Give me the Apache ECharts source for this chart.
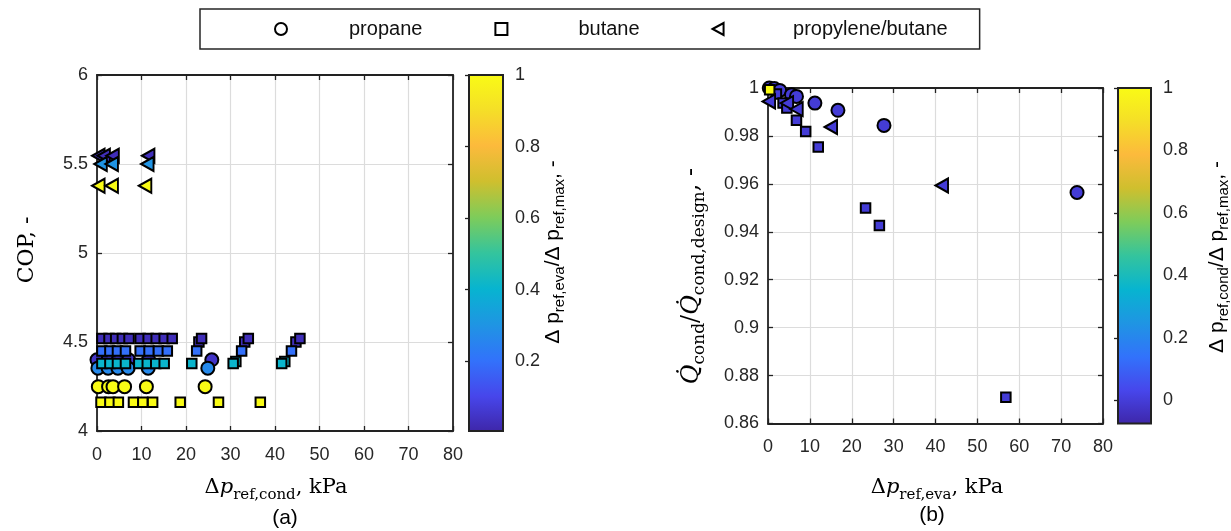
<!DOCTYPE html>
<html><head><meta charset="utf-8">
<script src="https://cdn.jsdelivr.net/npm/echarts@6/dist/echarts.min.js"></script>
<style>html,body{margin:0;padding:0;background:#fff}#c{width:1231px;height:531px}</style>
</head><body><div id="c"></div>
<script>
// ---------- data ----------
// panel (a): [dp_ref,cond (kPa), COP, dp_ref,eva / dp_ref,max]
const copPropane = [
  [0.0,4.40,0.05],[2.5,4.40,0.05],[4.8,4.40,0.05],[7.1,4.40,0.05],[11.6,4.40,0.05],[25.8,4.40,0.05],
  [0.2,4.353,0.27],[2.5,4.353,0.27],[4.7,4.353,0.27],[7.0,4.353,0.27],[11.5,4.353,0.27],[24.9,4.353,0.27],
  [0.3,4.249,1],[2.6,4.249,1],[3.6,4.249,1],[6.2,4.249,1],[11.1,4.249,1],[24.3,4.249,1]
];
const copButane = [
  [1.1,4.519,0.03],[2.7,4.519,0.03],[4.2,4.519,0.03],[5.7,4.519,0.03],[7.2,4.519,0.03],
  [9.7,4.519,0.03],[11.5,4.519,0.03],[13.3,4.519,0.03],[15.1,4.519,0.03],[16.9,4.519,0.03],
  [22.9,4.50,0.03],[23.5,4.519,0.03],[33.2,4.50,0.03],[34.0,4.519,0.03],[44.7,4.50,0.03],[45.6,4.519,0.03],
  [1.1,4.45,0.2],[2.9,4.45,0.2],[4.6,4.45,0.2],[6.4,4.45,0.2],
  [9.7,4.45,0.2],[11.7,4.45,0.2],[13.8,4.45,0.2],[15.8,4.45,0.2],
  [22.4,4.45,0.2],[32.5,4.45,0.2],[43.7,4.45,0.2],
  [1.1,4.379,0.41],[2.9,4.379,0.41],[4.6,4.379,0.41],[6.4,4.379,0.41],
  [9.4,4.379,0.41],[11.3,4.379,0.41],[13.2,4.379,0.41],[15.1,4.379,0.41],
  [21.3,4.379,0.41],[31.2,4.39,0.41],[30.6,4.379,0.41],[42.2,4.39,0.41],[41.5,4.379,0.41],
  [0.9,4.162,1],[2.9,4.162,1],[4.8,4.162,1],[8.2,4.162,1],[10.3,4.162,1],[12.5,4.162,1],
  [18.7,4.162,1],[27.3,4.162,1],[36.7,4.162,1]
];
const copPropBut = [
  [0.3,5.546,0.03],[1.5,5.546,0.03],[3.5,5.546,0.03],[11.5,5.546,0.03],
  [0.8,5.50,0.3],[3.3,5.50,0.3],[11.3,5.50,0.3],
  [0.3,5.378,1],[3.3,5.378,1],[10.8,5.378,1]
];
// panel (b): [dp_ref,eva (kPa), Q_cond/Q_cond,design, dp_ref,cond / dp_ref,max]
const qPropane = [
  [0.3,1.0,0.0],[1.5,0.9998,0.0],[2.8,0.999,0.0],[5.6,0.9972,0.0],[6.8,0.9965,0.0],
  [11.2,0.9937,0.0],[16.7,0.9907,0.0],[27.7,0.9844,0.0],[73.8,0.9564,0.0]
];
const qButane = [
  [2.0,0.9975,0.0],[3.6,0.9937,0.0],[4.5,0.9917,0.0],[6.8,0.9865,0.0],[9.0,0.9819,0.0],
  [12.0,0.9754,0.0],[23.3,0.9499,0.0],[26.6,0.9426,0.0],[56.8,0.871,0.0],[0.4,0.9993,1]
];
const qPropBut = [
  [0.2,0.9944,0.0],[4.5,0.9937,0.0],[6.8,0.9912,0.0],[15.0,0.9837,0.0],[41.5,0.9593,0.0]
];
const xTickValues = [0,10,20,30,40,50,60,70,80];
const copTickValues = [4,4.5,5,5.5,6];
const qTickValues = [0.86,0.88,0.9,0.92,0.94,0.96,0.98,1];
const cbTicksEva = [0.2,0.4,0.6,0.8,1];
const cbTicksCond = [0,0.2,0.4,0.6,0.8,1];
const cbRangeEva = [0.005,1];
const cbRangeCond = [-0.074,1];
const seriesNames = ['propane','butane','propylene/butane'];

// ---------- style ----------
const parula = ['#3e26a8','#4746eb','#3272fb','#1f95e3','#07b4d0','#34c49d','#7ecc5a','#cfbf2e','#fcba3c','#f5df27','#f9fb15'];
const TXT = '#262626';
const SANS = 'Liberation Sans, Arial, sans-serif';
const SERIF = 'DejaVu Serif, Liberation Serif, serif';
const triPath = 'path://M0,6 L11,0 L11,12 Z';

const chart = echarts.init(document.getElementById('c'), null, {renderer:'canvas'});

function boxAxes(gridIdx, min, max, interval, isX, margin) {
  const base = {
    gridIndex: gridIdx, type: 'value', min: min, max: max, interval: interval,
    axisLine: {show: true, onZero: false, lineStyle: {color: '#222', width: 1.8}},
    axisTick: {show: true, inside: true, length: 5, lineStyle: {color: '#222', width: 1.3}},
    splitLine: {show: false},
    axisLabel: {show: false}
  };
  const main = Object.assign({}, base, {
    position: isX ? 'bottom' : 'left',
    splitLine: {show: true, lineStyle: {color: '#dcdcdc', width: 1.2}},
    axisLabel: {show: true, color: TXT, fontSize: 18, fontFamily: SANS, margin: margin}
  });
  const mirror = Object.assign({}, base, {position: isX ? 'top' : 'right'});
  return [main, mirror];
}

const xAxes = [].concat(
  boxAxes(0, xTickValues[0], xTickValues[xTickValues.length - 1], 10, true, 15),
  boxAxes(1, xTickValues[0], xTickValues[xTickValues.length - 1], 10, true, 15),
  [{gridIndex: 2, type: 'value', min: 0, max: 1, show: false},
   {gridIndex: 3, type: 'value', min: 0, max: 1, show: false}]
);
const yAxes = [].concat(
  boxAxes(0, copTickValues[0], copTickValues[copTickValues.length - 1], 0.5, false, 9),
  boxAxes(1, qTickValues[0], qTickValues[qTickValues.length - 1], 0.02, false, 9),
  [
    {gridIndex: 2, type: 'value', position: 'right', min: cbRangeEva[0], max: cbRangeEva[1],
     axisLine: {show: false}, splitLine: {show: false},
     axisTick: {show: true, inside: true, length: 4, customValues: cbTicksEva, lineStyle: {color: '#222', width: 1.3}},
     axisLabel: {show: true, customValues: cbTicksEva, color: TXT, fontSize: 18, fontFamily: SANS, margin: 12}},
    {gridIndex: 3, type: 'value', position: 'right', min: cbRangeCond[0], max: cbRangeCond[1],
     axisLine: {show: false}, splitLine: {show: false},
     axisTick: {show: true, inside: true, length: 4, customValues: cbTicksCond, lineStyle: {color: '#222', width: 1.3}},
     axisLabel: {show: true, customValues: cbTicksCond, color: TXT, fontSize: 18, fontFamily: SANS, margin: 12}}
  ]
);

function colorbarSeries(axisIdx, range) {
  return {
    type: 'custom', xAxisIndex: axisIdx, yAxisIndex: axisIdx, silent: true, clip: false,
    data: [[0, range[0]]],
    renderItem: function (params, api) {
      const p0 = api.coord([0, range[1]]);
      const p1 = api.coord([1, range[0]]);
      const stops = parula.map((c, i) => ({offset: i / (parula.length - 1), color: c}));
      return {
        type: 'rect',
        shape: {x: p0[0], y: p0[1], width: p1[0] - p0[0], height: p1[1] - p0[1]},
        style: {fill: new echarts.graphic.LinearGradient(0, 1, 0, 0, stops), stroke: '#222', lineWidth: 2}
      };
    }
  };
}

const symbols = ['circle', 'rect', triPath];
const sizes = [13, 9.5, [12.5, 14]];
function scatter(name, idx, axisIdx, data) {
  return {
    name: name, type: 'scatter', xAxisIndex: axisIdx, yAxisIndex: axisIdx, clip: false,
    symbol: symbols[idx], symbolSize: sizes[idx], data: data,
    itemStyle: {borderColor: '#000', borderWidth: 2, opacity: 1},
    emphasis: {disabled: true}
  };
}

const series = [
  scatter(seriesNames[0], 0, 0, copPropane),
  scatter(seriesNames[1], 1, 0, copButane),
  scatter(seriesNames[2], 2, 0, copPropBut),
  scatter(seriesNames[0], 0, 2, qPropane),
  scatter(seriesNames[1], 1, 2, qButane),
  scatter(seriesNames[2], 2, 2, qPropBut),
  colorbarSeries(4, cbRangeEva),
  colorbarSeries(5, cbRangeCond)
];

function richSerif(m, s) {
  return {
    m: {fontFamily: SERIF, fontSize: m, color: TXT, lineHeight: m + 8, verticalAlign: 'middle'},
    i: {fontFamily: SERIF, fontSize: m, fontStyle: 'italic', color: TXT, lineHeight: m + 8, verticalAlign: 'middle'},
    s: {fontFamily: SERIF, fontSize: s, color: TXT, lineHeight: s, verticalAlign: 'bottom'}
  };
}
const richSans = {
  m: {fontFamily: SANS, fontSize: 21, color: TXT, lineHeight: 29, verticalAlign: 'middle'},
  s: {fontFamily: SANS, fontSize: 15, color: TXT, lineHeight: 15, verticalAlign: 'bottom'}
};
function label(x, y, text, rich, rot) {
  return {type: 'text', x: x, y: y, rotation: rot || 0, silent: true,
    style: {text: text, rich: rich, align: 'center', verticalAlign: 'middle'}};
}

const legendIcon = {color: '#fff', borderColor: '#000', borderWidth: 2};
chart.setOption({
  animation: false,
  backgroundColor: '#fff',
  grid: [
    {left: 97, top: 75, width: 356, height: 356},
    {left: 768, top: 88, width: 335, height: 335.5},
    {left: 469, top: 75, width: 34, height: 356},
    {left: 1118, top: 88, width: 33, height: 335.5}
  ],
  xAxis: xAxes,
  yAxis: yAxes,
  visualMap: [
    {type: 'continuous', show: false, dimension: 2, seriesIndex: [0, 1, 2],
     min: cbRangeEva[0], max: cbRangeEva[1], inRange: {color: parula}},
    {type: 'continuous', show: false, dimension: 2, seriesIndex: [3, 4, 5],
     min: cbRangeCond[0], max: cbRangeCond[1], inRange: {color: parula}}
  ],
  legend: {
    left: 200, top: 9, selectedMode: false,
    padding: [10, 32, 10, 74], itemGap: 72, itemWidth: 12, itemHeight: 12,
    borderColor: '#262626', borderWidth: 1.5,
    textStyle: {fontFamily: SANS, fontSize: 20, color: '#111'},
    data: [
      {name: seriesNames[0], icon: 'circle', itemStyle: legendIcon, textStyle: {padding: [0, 0, 0, 57]}},
      {name: seriesNames[1], icon: 'rect', itemStyle: legendIcon, textStyle: {padding: [0, 0, 0, 66]}},
      {name: seriesNames[2], icon: triPath, itemStyle: legendIcon, textStyle: {padding: [0, 0, 0, 64]}}
    ]
  },
  graphic: [
    label(276, 488, '{m|Δ}{i|p}{s|ref,cond}{m|, kPa}', richSerif(21, 15)),
    label(937, 488, '{m|Δ}{i|p}{s|ref,eva}{m|, kPa}', richSerif(21, 15)),
    label(27, 250, '{m|COP, -}', richSerif(22, 15), Math.PI / 2),
    label(692, 276, '{i|Q\u0307}{s|cond}{m|/}{i|Q\u0307}{s|cond,design}{m|, -}', richSerif(24, 17), Math.PI / 2),
    label(553, 252, '{m|Δ p}{s|ref,eva}{m|/Δ p}{s|ref,max}{m|, -}', richSans, Math.PI / 2),
    label(1217, 257, '{m|Δ p}{s|ref,cond}{m|/Δ p}{s|ref,max}{m|, -}', richSans, Math.PI / 2),
    {type: 'text', x: 285, y: 518, silent: true, style: {text: '(a)', fontFamily: SANS, fontSize: 21, fill: '#000', align: 'center', verticalAlign: 'middle'}},
    {type: 'text', x: 932, y: 515, silent: true, style: {text: '(b)', fontFamily: SANS, fontSize: 21, fill: '#000', align: 'center', verticalAlign: 'middle'}}
  ],
  series: series
});
</script></body></html>
